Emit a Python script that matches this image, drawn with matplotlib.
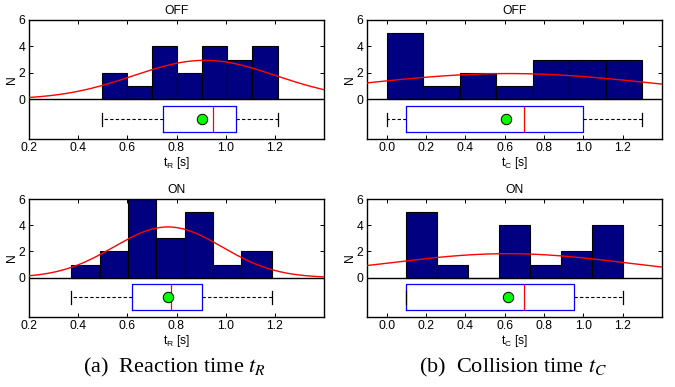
import numpy as np
import matplotlib
matplotlib.use("Agg")
import matplotlib.pyplot as plt

plt.rcParams['font.family'] = ['Liberation Sans', 'DejaVu Sans']
plt.rcParams['mathtext.fontset'] = 'stix'

# ---------------- data ----------------
# Reaction time, OFF
tr_off_edges = [0.495, 0.597, 0.700, 0.801, 0.904, 1.007, 1.108, 1.211]
tr_off_counts = [2, 1, 4, 2, 4, 3, 4]
tr_off_box = dict(whislo=0.495, q1=0.745, med=0.947, q3=1.04, whishi=1.211, mean=0.905)
tr_off_fit = dict(mu=0.915, sd=0.29, peak=2.95)

# Reaction time, ON
tr_on_edges = [0.372, 0.487, 0.603, 0.718, 0.833, 0.949, 1.064, 1.188]
tr_on_counts = [1, 2, 6, 3, 5, 1, 2]
tr_on_box = dict(whislo=0.372, q1=0.62, med=0.777, q3=0.902, whishi=1.19, mean=0.767)
tr_on_fit = dict(mu=0.765, sd=0.22, peak=3.87)

# Collision time, OFF
tc_off_edges = [0.0, 0.186, 0.371, 0.557, 0.743, 0.929, 1.114, 1.3]
tc_off_counts = [5, 1, 2, 1, 3, 3, 3]
tc_off_box = dict(whislo=0.0, q1=0.1, med=0.7, q3=1.0, whishi=1.3, mean=0.607)
tc_off_fit = dict(mu=0.62, sd=0.76, peak=1.95)

# Collision time, ON
tc_on_edges = [0.1, 0.257, 0.414, 0.571, 0.729, 0.886, 1.043, 1.2]
tc_on_counts = [5, 1, 0, 4, 1, 2, 4]
tc_on_box = dict(whislo=0.1, q1=0.1, med=0.7, q3=0.95, whishi=1.2, mean=0.618)
tc_on_fit = dict(mu=0.616, sd=0.613, peak=1.83)

tr_ticks = [0.2, 0.4, 0.6, 0.8, 1.0, 1.2]
tc_ticks = [0.0, 0.2, 0.4, 0.6, 0.8, 1.0, 1.2]
y_ticks = [0, 2, 4, 6]

W, H = 675, 387
fig = plt.figure(figsize=(W / 100, H / 100), dpi=100)
FS = 8.7


def rect(l, r, t, b):
    return [l / W, 1 - b / H, (r - l) / W, (b - t) / H]


def panel(pos, edges, counts, box, fit, xlim, xticks, title, xlabel):
    ax = fig.add_axes(pos)
    edges = np.asarray(edges)
    ax.bar(edges[:-1], counts, width=np.diff(edges), align='edge',
           color='#000080', edgecolor='black', linewidth=0.8, zorder=2)
    xs = np.linspace(xlim[0], xlim[1], 300)
    ax.plot(xs, fit['peak'] * np.exp(-0.5 * ((xs - fit['mu']) / fit['sd']) ** 2),
            color='#ff0000', lw=1.0, zorder=3)
    ax.axhline(0, color='black', lw=1.0, zorder=4)
    stats = [dict(box, fliers=[])]
    ax.bxp(stats, positions=[-1.5], widths=2.0, orientation='horizontal',
           showmeans=True, capwidths=[1.0],
           boxprops=dict(color='#0000ff', lw=0.9),
           medianprops=dict(color='#ff0000', lw=0.9),
           whiskerprops=dict(color='black', lw=0.8, linestyle=(0, (3, 2))),
           capprops=dict(color='black', lw=0.9),
           meanprops=dict(marker='o', markerfacecolor='#00ff00',
                          markeredgecolor='black', markersize=7.5, markeredgewidth=0.7),
           manage_ticks=False)
    ax.set_xlim(*xlim)
    ax.set_ylim(-3, 6)
    ax.set_xticks(xticks)
    ax.set_xticklabels([f"{t:.1f}" for t in xticks])
    ax.set_yticks(y_ticks)
    ax.set_yticklabels([str(t) for t in y_ticks])
    ax.tick_params(direction='in', top=True, right=True, length=3, width=0.7,
                   labelsize=FS, pad=2.5)
    for s in ax.spines.values():
        s.set_linewidth(1.0)
    ax.set_title(title, fontsize=FS, pad=4.5)
    ax.set_xlabel(xlabel, fontsize=FS, labelpad=0.3)
    ax.set_ylabel('N', fontsize=FS, labelpad=0.2)
    return ax


panel(rect(29, 324, 20, 139), tr_off_edges, tr_off_counts, tr_off_box, tr_off_fit,
      (0.2, 1.4), tr_ticks, 'OFF', r'$\mathregular{t_R}$ [s]')
panel(rect(29, 324, 199, 317), tr_on_edges, tr_on_counts, tr_on_box, tr_on_fit,
      (0.2, 1.4), tr_ticks, 'ON', r'$\mathregular{t_R}$ [s]')
panel(rect(367, 662, 20, 139), tc_off_edges, tc_off_counts, tc_off_box, tc_off_fit,
      (-0.1, 1.4), tc_ticks, 'OFF', r'$\mathregular{t_C}$ [s]')
panel(rect(367, 662, 199, 317), tc_on_edges, tc_on_counts, tc_on_box, tc_on_fit,
      (-0.1, 1.4), tc_ticks, 'ON', r'$\mathregular{t_C}$ [s]')

fig.text(174 / W, 1 - 367 / H, r'(a)  Reaction time $t_R$', ha='center', va='center',
         fontsize=16, family=['Liberation Serif', 'DejaVu Serif'])
fig.text(513 / W, 1 - 367 / H, r'(b)  Collision time $t_C$', ha='center', va='center',
         fontsize=16, family=['Liberation Serif', 'DejaVu Serif'])

fig.savefig('out.png', dpi=100)
